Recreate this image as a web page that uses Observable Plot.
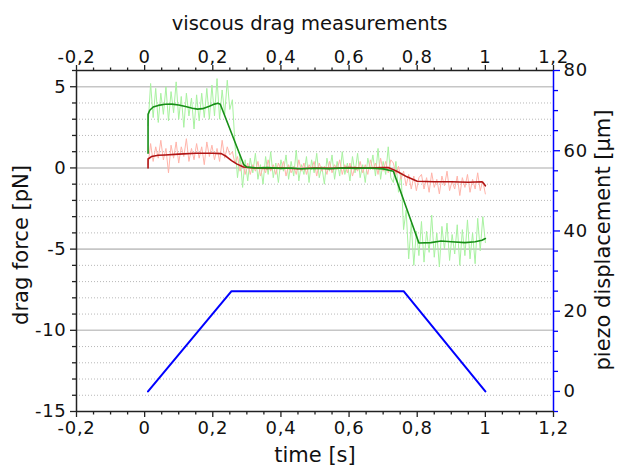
<!DOCTYPE html>
<html><head><meta charset="utf-8">
<script src="https://cdn.jsdelivr.net/npm/d3@7"></script>
<script src="https://cdn.jsdelivr.net/npm/@observablehq/plot@0.6"></script>
<style>
html,body{margin:0;padding:0;background:#fff;}
#wrap{position:relative;width:617px;height:468px;font-family:"DejaVu Sans",sans-serif;}
#title{height:36px;width:617px;box-sizing:border-box;padding-top:14px;line-height:20px;font-size:19.5px;text-align:center;color:#111;padding-left:2px;}
#chart{position:relative;width:617px;height:432px;}
#chart svg{position:absolute;left:0;top:0;}
#chart g[aria-label$="tick label"] text{letter-spacing:0.7px;}
</style></head>
<body>
<div id="wrap"><div id="title"></div><div id="chart"></div></div>
<script>
const titleText = "viscous drag measurements";
const xLabel = "time [s]";
const yLabel = "drag force [pN]";
const y2Label = "piezo displacement [µm]";
const xTicks = [-0.2, 0, 0.2, 0.4, 0.6, 0.8, 1, 1.2];
const yTicks = [-15, -10, -5, 0, 5];
const y2Ticks = [0, 20, 40, 60, 80];

// raw samples: start time and sampling step
const rawStart = 0.01, rawStep = 0.0075;
const rawGreen = [
  2.6, 5.2, 3.1, 4.9, 2.8, 4.6, 3.3, 5.0, 2.9, 4.7, 3.4, 5.3, 3.0, 4.4, 2.5, 4.6, 3.2, 4.3, 2.4, 4.5,
  2.9, 4.6, 3.1, 4.9, 3.0, 5.1, 3.2, 5.5, 3.0, 4.8, 3.3, 5.4, 3.6,
  4.2, 1.5, -0.6, 0.8, -1.2, 0.5,
  -0.8, 0.6, -0.3, 0.9, -0.7, 0.2, -1.0, 0.7, -0.4, 1.0, -0.6, 0.3, -0.9, 0.5, -0.2, 0.8, -0.7, 0.4, -0.5, 1.1,
  -0.8, 0.2, -0.4, 0.7, -0.9, 0.5, -0.3, 0.9, -0.6, 0.1, -1.0, 0.6, -0.2, 0.8, -0.7, 0.4, -0.5, 1.0, -0.4, 0.3,
  -0.8, 0.7, -0.3, 0.9, -0.6, 0.2, -0.9, 0.6, -0.1, 0.8, -0.5, 1.2, -0.7, 0.4, -0.4, 1.3, -0.6,
  -0.9, 0.4, -1.5, -0.3, -3.8, -2.6, -5.6, -3.4, -6.0, -3.9, -5.4,
  -3.3, -5.8, -3.9, -5.2, -2.9, -5.5, -4.0, -6.1, -3.6, -5.0, -3.4, -5.7, -4.1, -5.3, -3.5, -6.0, -3.8, -5.4,
  -3.2, -5.6, -4.0, -5.9, -3.1, -5.1, -3.0, -4.6
];
const rawRed = [
  0.2, 1.5, 0.4, 1.3, 0.6, 1.7, 0.5, 1.2, -0.3, 1.4, 0.6, 1.6, 0.3, 1.3, 0.7, 1.8, 0.4, 1.2, 0.5, 1.5,
  0.6, 1.3, 0.2, 1.6, 0.7, 1.4, 0.5, 1.2, 0.4, 1.7, 0.6, 1.3, 0.8,
  1.0, 0.3, 0.7, -0.2, 0.4, -0.4,
  0.3, -0.4, 0.2, -0.2, 0.4, -0.5, 0.1, -0.3, 0.5, -0.2, 0.2, -0.4, 0.3, -0.1, 0.4, -0.5, 0.2, -0.3, 0.1, -0.4,
  0.5, -0.2, 0.3, -0.4, 0.2, -0.1, 0.4, -0.5, 0.3, -0.2, 0.1, -0.4, 0.4, -0.3, 0.2, -0.1, 0.5, -0.4, 0.2, -0.3,
  0.3, -0.5, 0.1, -0.2, 0.4, -0.3, 0.2, -0.4, 0.5, -0.1, 0.3, -0.4, 0.6, -0.2, 0.4, -0.3, 0.5,
  0.3, -0.4, 0.1, -0.7, -0.2, -1.1, -0.4, -1.3, -0.5, -1.4, -0.6,
  -0.4, -1.3, -0.6, -1.5, -0.3, -1.2, -0.7, -1.6, -0.5, -1.1, -0.2, -1.4, -0.8, -1.3, -0.5, -1.7, -0.6, -1.2,
  -0.4, -1.5, -0.7, -1.3, -0.3, -1.4, -0.8, -1.6
];

const smoothGreenT = [0.01, 0.01, 0.015, 0.025, 0.04, 0.06, 0.08, 0.10, 0.12, 0.14, 0.155, 0.17, 0.19, 0.205, 0.215, 0.222,
  0.291, 0.30, 0.33, 0.36, 0.40, 0.43, 0.46, 0.50, 0.54, 0.58, 0.62, 0.66, 0.70, 0.73,
  0.805, 0.84, 0.87, 0.90, 0.94, 0.97, 0.99, 1.0];
const smoothGreenV = [0.9, 3.3, 3.55, 3.75, 3.85, 3.92, 3.93, 3.88, 3.78, 3.68, 3.62, 3.65, 3.8, 3.93, 3.98, 3.92,
  0.2, 0.05, 0.0, 0.02, -0.03, 0.0, -0.05, -0.02, -0.04, 0.0, -0.03, 0.0, -0.06, -0.2,
  -4.62, -4.6, -4.5, -4.55, -4.6, -4.55, -4.45, -4.35];

const smoothRedT = [0.01, 0.01, 0.02, 0.04, 0.06, 0.1, 0.15, 0.2, 0.225, 0.24, 0.255, 0.27, 0.29, 0.32, 0.36, 0.40,
  0.45, 0.50, 0.55, 0.60, 0.65, 0.70, 0.715, 0.74, 0.77, 0.80, 0.85, 0.90, 0.95, 0.99, 0.995, 1.0];
const smoothRedV = [0.0, 0.55, 0.7, 0.78, 0.8, 0.85, 0.9, 0.9, 0.88, 0.7, 0.45, 0.25, 0.06, 0.0, -0.03, 0.0,
  -0.05, 0.0, -0.03, 0.02, 0.0, 0.02, 0.02, -0.2, -0.55, -0.82, -0.85, -0.85, -0.88, -0.85, -0.95, -1.1];

const piezoT = [0.01, 0.255, 0.76, 1.0];
const piezoV = [0, 25, 25, 0];

document.getElementById("title").textContent = titleText;

const fmt = d => String(d).replace(".", ",");
const xMinor = d3.range(-4, 25).map(k => k * 0.05).filter(v => Math.abs(v / 0.2 - Math.round(v / 0.2)) > 1e-6);
const yMinor = d3.range(-15, 7).filter(v => v % 5 !== 0);
const y2Minor = d3.range(-5, 81, 5).filter(v => v % 20 !== 0);
const yGridMajor = [-10, -5, 0, 5];
const yGridMinor = yMinor;

const rawG = rawGreen.map((v, i) => ({t: rawStart + i * rawStep, v}));
const rawR = rawRed.map((v, i) => ({t: rawStart + i * rawStep, v}));
const smG = smoothGreenT.map((t, i) => ({t, v: smoothGreenV[i]}));
const smR = smoothRedT.map((t, i) => ({t, v: smoothRedV[i]}));
const pz = piezoT.map((t, i) => ({t, v: piezoV[i]}));

const common = {
  width: 617, height: 432,
  marginLeft: 76, marginRight: 64, marginTop: 34, marginBottom: 57,
  style: {fontFamily: "DejaVu Sans, sans-serif", fontSize: "18px", background: "transparent", overflow: "visible", color: "#111"}
};
const AX = "#222";
const FS = 18;

const main = Plot.plot({
  ...common,
  x: {domain: [-0.2, 1.2], axis: null},
  y: {domain: [-15, 6], axis: null},
  marks: [
    Plot.gridY(yGridMinor, {stroke: "#b8b8b8", strokeOpacity: 1, strokeWidth: 1, strokeDasharray: "1,2"}),
    Plot.gridY(yGridMajor, {stroke: "#c6c6c6", strokeOpacity: 1, strokeWidth: 1.6}),
    Plot.line(rawG, {x: "t", y: "v", stroke: "#a8f2a0", strokeWidth: 1}),
    Plot.line(rawR, {x: "t", y: "v", stroke: "#ffb4aa", strokeWidth: 1}),
    Plot.line(smR, {x: "t", y: "v", stroke: "#b01414", strokeWidth: 1.6}),
    Plot.line(smG, {x: "t", y: "v", stroke: "#178f17", strokeWidth: 1.6}),
    Plot.ruleY([-15, 6], {stroke: AX, strokeWidth: 1.5}),
    Plot.ruleX([-0.2], {stroke: AX, strokeWidth: 1.5}),
    Plot.axisX(xTicks, {anchor: "top", tickSize: 6, tickPadding: 2, tickFormat: fmt, label: null, stroke: AX, strokeWidth: 1.3, fontSize: FS}),
    Plot.axisX(xMinor, {anchor: "top", tickSize: 3.5, tickFormat: () => "", label: null, stroke: AX, strokeWidth: 1.3}),
    Plot.axisX(xTicks, {anchor: "bottom", tickSize: 6, tickPadding: 4, tickFormat: fmt, label: null, stroke: AX, strokeWidth: 1.3, fontSize: FS}),
    Plot.axisX(xMinor, {anchor: "bottom", tickSize: 3.5, tickFormat: () => "", label: null, stroke: AX, strokeWidth: 1.3}),
    Plot.axisY(yTicks, {anchor: "left", tickSize: 6, tickPadding: 4, tickFormat: fmt, label: null, stroke: AX, strokeWidth: 1.3, fontSize: FS}),
    Plot.axisY(yMinor, {anchor: "left", tickSize: 4, tickFormat: () => "", label: null, stroke: AX, strokeWidth: 1.3}),
    Plot.text([xLabel], {frameAnchor: "bottom", textAnchor: "middle", lineAnchor: "middle", dy: 44, fontSize: 21, fill: "#111", text: d => d}),
    Plot.text([yLabel], {frameAnchor: "left", textAnchor: "middle", lineAnchor: "middle", dx: -55, dy: 4, rotate: -90, fontSize: 21, fill: "#111", text: d => d}),
    Plot.text([y2Label], {frameAnchor: "right", textAnchor: "middle", lineAnchor: "middle", dx: 50, dy: -1, rotate: -90, fontSize: 21, fill: "#111", text: d => d})
  ]
});

const over = Plot.plot({
  ...common,
  x: {domain: [-0.2, 1.2], axis: null},
  y: {domain: [-5, 80], axis: null},
  marks: [
    Plot.line(pz, {x: "t", y: "v", stroke: "#0000ff", strokeWidth: 2}),
    Plot.ruleX([1.2], {stroke: "#0000ff", strokeWidth: 1.5}),
    Plot.axisY(y2Ticks, {anchor: "right", tickSize: 6, tickPadding: 4, label: null, stroke: "#0000ff", strokeWidth: 1.3, fontSize: FS}),
    Plot.axisY(y2Minor, {anchor: "right", tickSize: 4, tickFormat: () => "", label: null, stroke: "#0000ff", strokeWidth: 1.3})
  ]
});

const chart = document.getElementById("chart");
chart.appendChild(main);
chart.appendChild(over);
</script>
</body></html>
